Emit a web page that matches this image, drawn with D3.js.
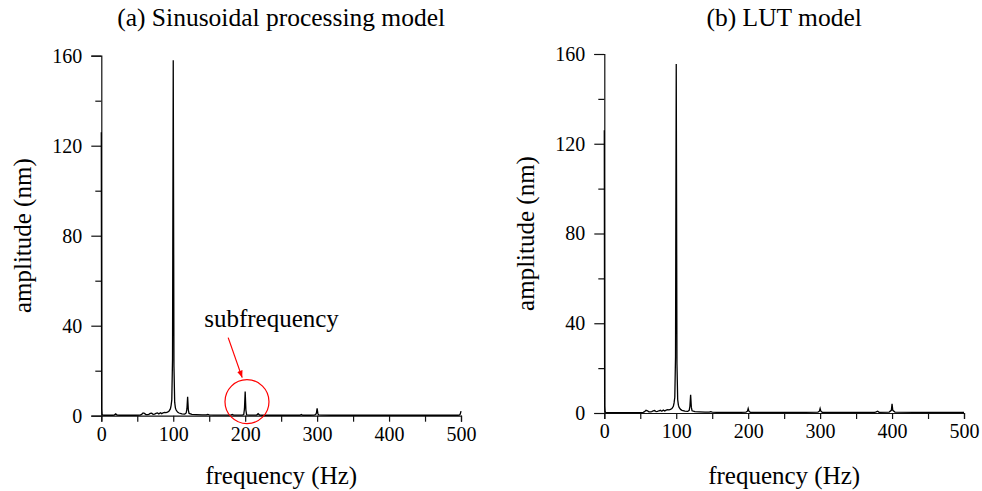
<!DOCTYPE html>
<html>
<head>
<meta charset="utf-8">
<script src="https://cdn.jsdelivr.net/npm/d3@7"></script>
<style>
html,body{margin:0;padding:0;background:#fff;}
svg{display:block;}
text{font-family:"Liberation Serif","Times New Roman",serif;fill:#000;}
</style>
</head>
<body>
<svg id="chart" width="982" height="491"></svg>
<script>
// ---- data ----
const titles = ["(a) Sinusoidal processing model", "(b) LUT model"];
const xTickValues = [0, 50, 100, 150, 200, 250, 300, 350, 400, 450, 500];
const xTickLabels = [0, 100, 200, 300, 400, 500];
const yTickValues = [0, 20, 40, 60, 80, 100, 120, 140, 160];
const yTickLabels = [0, 40, 80, 120, 160];

// (a) sinusoidal processing model spectrum
const freqA = [0, 0.5, 1, 2, 4, 8, 12, 16, 18, 20, 22, 26, 32, 40, 48, 54, 56, 58, 60, 62, 64, 66, 68, 70, 72, 74, 76, 78, 80, 82, 84, 86, 88, 90, 92, 94, 96, 97, 98, 99, 100, 101, 102, 103, 104, 106, 108, 112, 116, 118, 119, 120, 121, 122, 126, 132, 140, 146, 148, 150, 156, 170, 180, 182, 184, 190, 196, 198, 199, 200, 201, 202, 206, 212, 216, 218, 220, 224, 240, 260, 276, 278, 280, 290, 296, 298, 299, 300, 301, 302, 306, 320, 350, 380, 400, 420, 450, 480, 496, 498, 499, 500];
const ampA  = [126, 3, 0.6, 0.3, 0.2, 0.2, 0.2, 0.2, 0.3, 0.8, 0.3, 0.2, 0.2, 0.2, 0.2, 0.3, 0.6, 1.2, 1.0, 0.5, 0.5, 0.6, 1.0, 1.1, 0.6, 0.7, 1.0, 1.2, 0.8, 1.3, 0.9, 1.3, 1.5, 1.4, 1.6, 2.0, 3.0, 4.5, 7, 25, 158, 22, 6, 3.5, 2.5, 1.6, 1.2, 0.8, 0.7, 1.2, 3, 8.4, 2.5, 1.0, 0.6, 0.5, 0.4, 0.4, 0.6, 0.4, 0.3, 0.3, 0.3, 0.6, 0.3, 0.3, 0.3, 0.5, 3, 10.7, 2.5, 0.4, 0.3, 0.3, 0.3, 0.9, 0.3, 0.2, 0.2, 0.2, 0.2, 0.5, 0.2, 0.2, 0.3, 0.5, 1.2, 3.3, 1, 0.4, 0.3, 0.2, 0.2, 0.2, 0.2, 0.2, 0.2, 0.2, 0.2, 0.3, 0.8, 2];

// (b) LUT model spectrum
const freqB = [0, 0.5, 1, 2, 4, 8, 12, 20, 30, 40, 50, 54, 56, 58, 60, 62, 64, 66, 68, 70, 72, 74, 76, 78, 80, 82, 84, 86, 88, 90, 92, 94, 96, 97, 98, 99, 100, 101, 102, 103, 104, 106, 108, 112, 116, 118, 119, 120, 121, 122, 126, 132, 140, 146, 148, 150, 156, 170, 190, 197, 199, 200, 201, 203, 220, 250, 280, 297, 299, 300, 301, 303, 330, 360, 376, 378, 380, 382, 396, 399, 400, 401, 404, 430, 460, 490, 500];
const ampB  = [126, 3, 0.6, 0.3, 0.2, 0.2, 0.2, 0.2, 0.2, 0.2, 0.2, 0.3, 0.6, 1.2, 1.0, 0.5, 0.5, 0.6, 1.0, 1.1, 0.6, 0.7, 1.0, 1.2, 0.8, 1.3, 0.9, 1.3, 1.5, 1.4, 1.6, 2.0, 3.0, 4.5, 7, 25, 155.5, 22, 6, 3.5, 2.5, 1.6, 1.2, 0.8, 0.7, 1.2, 3, 8.1, 2.5, 1.0, 0.6, 0.5, 0.4, 0.4, 0.6, 0.4, 0.3, 0.3, 0.3, 0.4, 0.8, 2.0, 0.8, 0.3, 0.3, 0.3, 0.3, 0.4, 0.8, 2.0, 0.8, 0.3, 0.3, 0.3, 0.3, 0.5, 0.8, 0.3, 0.4, 1.2, 4.1, 1.2, 0.4, 0.3, 0.3, 0.3, 0.3];

const annotation = "subfrequency";
const annotFreq = 200;
const annotAmp = 10.7;

// ---- layout ----
const svg = d3.select("#chart");
const panels = [
  {left: 101.3, right: 461, top: 55.7, bottom: 415.7, freq: freqA, amp: ampA, title: titles[0]},
  {left: 604.3, right: 964, top: 54.0, bottom: 413.0, freq: freqB, amp: ampB, title: titles[1]}
];

panels.forEach((p, i) => {
  const x = d3.scaleLinear().domain([0, 500]).range([p.left, p.right]);
  const y = d3.scaleLinear().domain([0, 160]).range([p.bottom, p.top]);
  const g = svg.append("g");

  // x axis
  const xa = g.append("g")
    .attr("transform", `translate(0,${p.bottom})`)
    .call(d3.axisBottom(x).tickValues(xTickValues).tickSizeOuter(0).tickSize(6).tickPadding(5)
      .tickFormat(d => xTickLabels.includes(d) ? d : ""));
  xa.selectAll("text").attr("font-size", 20).attr("font-family", "Liberation Serif, Times New Roman, serif");
  xa.selectAll("path,line").attr("stroke", "#111").attr("stroke-width", 1.2);

  // y axis
  const ya = g.append("g")
    .attr("transform", `translate(${p.left},0)`)
    .call(d3.axisLeft(y).tickValues(yTickValues).tickSizeOuter(0).tickSize(10).tickPadding(9)
      .tickFormat(d => yTickLabels.includes(d) ? d : ""));
  ya.selectAll(".tick").filter(d => !yTickLabels.includes(d)).select("line").attr("x2", -6);
  ya.selectAll("text").attr("font-size", 20).attr("font-family", "Liberation Serif, Times New Roman, serif");
  ya.selectAll("path,line").attr("stroke", "#111").attr("stroke-width", 1.2);

  // spectrum line
  const pts = p.freq.map((f, k) => [f, p.amp[k]]);
  g.append("path")
    .datum(pts)
    .attr("fill", "none")
    .attr("stroke", "#000")
    .attr("stroke-width", 1.3)
    .attr("stroke-linejoin", "miter")
    .attr("d", d3.line().x(d => x(d[0])).y(d => y(d[1])));

  const cx = (p.left + p.right) / 2;
  // title
  g.append("text").attr("x", cx).attr("y", 26).attr("text-anchor", "middle")
    .attr("font-size", 25.5).text(p.title);
  // x label
  g.append("text").attr("x", cx).attr("y", 484).attr("text-anchor", "middle")
    .attr("font-size", 25).text("frequency (Hz)");
  // y label
  const cy = (p.top + p.bottom) / 2;
  g.append("text").attr("transform", `translate(${p.left - 70},${cy}) rotate(-90)`)
    .attr("text-anchor", "middle").attr("font-size", 25).text("amplitude (nm)");

  if (i === 0) {
    // annotation
    const px = x(annotFreq), py = y(annotAmp);
    svg.append("defs").append("marker")
      .attr("id", "arr").attr("viewBox", "0 0 10 10").attr("refX", 10).attr("refY", 5)
      .attr("markerWidth", 7).attr("markerHeight", 7).attr("orient", "auto")
      .attr("markerUnits", "userSpaceOnUse")
      .append("path").attr("d", "M0,1 L10,5 L0,9 Z").attr("fill", "#f00");
    g.append("circle").attr("cx", px + 1.8).attr("cy", py + 10).attr("r", 22)
      .attr("fill", "none").attr("stroke", "#f00").attr("stroke-width", 1.2);
    g.append("line").attr("x1", px - 17).attr("y1", py - 54).attr("x2", px - 3).attr("y2", py - 14)
      .attr("stroke", "#f00").attr("stroke-width", 1.2).attr("marker-end", "url(#arr)");
    g.append("text").attr("x", px - 41).attr("y", py - 65).attr("font-size", 25).text(annotation);
  }
});
</script>
</body>
</html>
